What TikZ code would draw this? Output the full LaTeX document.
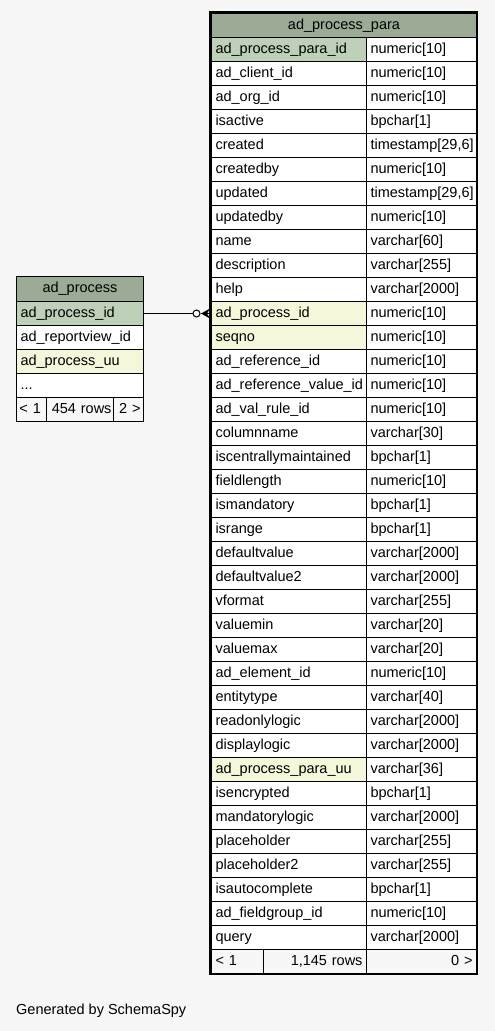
\documentclass[tikz,border=0pt]{standalone}
\usepackage{fontspec}
\setmainfont{Liberation Sans}
\usetikzlibrary{calc}
\definecolor{bg}{HTML}{F7F7F7}
\definecolor{hdr}{HTML}{9BAB96}
\definecolor{pk}{HTML}{BED1B8}
\definecolor{idx}{HTML}{F4F7DA}
\tikzset{
  cell/.style={draw=black, line width=1pt, rectangle, inner xsep=4pt, inner ysep=0pt,
    minimum height=24pt, text height=10.5pt, text depth=3pt, align=left, anchor=north west,
    font=\fontsize{14.5}{16}\selectfont},
  rcell/.style={cell, align=right},
  hcell/.style={cell, align=center, fill=hdr},
  conn/.style={draw=black, line width=1pt}
}
\newcommand\prow[4]{%
  \node[cell, fill=#4, text width=147pt] (pn#1) at (211,{37+24*#1}) {#2};
  \node[cell, fill=white, text width=102pt] (pt#1) at (366,{37+24*#1}) {#3};
}
\begin{document}
\begin{tikzpicture}[x=1pt,y=-1pt]
\fill[bg] (0,0) rectangle (495,1031);
\useasboundingbox (0,0) rectangle (495,1031);
% right table
\node[hcell, text width=257pt] (phead) at (211,13) {ad\_process\_para};
\prow{0}{ad\_process\_para\_id}{numeric[10]}{pk}
\prow{1}{ad\_client\_id}{numeric[10]}{white}
\prow{2}{ad\_org\_id}{numeric[10]}{white}
\prow{3}{isactive}{bpchar[1]}{white}
\prow{4}{created}{timestamp[29,6]}{white}
\prow{5}{createdby}{numeric[10]}{white}
\prow{6}{updated}{timestamp[29,6]}{white}
\prow{7}{updatedby}{numeric[10]}{white}
\prow{8}{name}{varchar[60]}{white}
\prow{9}{description}{varchar[255]}{white}
\prow{10}{help}{varchar[2000]}{white}
\prow{11}{ad\_process\_id}{numeric[10]}{idx}
\prow{12}{seqno}{numeric[10]}{idx}
\prow{13}{ad\_reference\_id}{numeric[10]}{white}
\prow{14}{ad\_reference\_value\_id}{numeric[10]}{white}
\prow{15}{ad\_val\_rule\_id}{numeric[10]}{white}
\prow{16}{columnname}{varchar[30]}{white}
\prow{17}{iscentrallymaintained}{bpchar[1]}{white}
\prow{18}{fieldlength}{numeric[10]}{white}
\prow{19}{ismandatory}{bpchar[1]}{white}
\prow{20}{isrange}{bpchar[1]}{white}
\prow{21}{defaultvalue}{varchar[2000]}{white}
\prow{22}{defaultvalue2}{varchar[2000]}{white}
\prow{23}{vformat}{varchar[255]}{white}
\prow{24}{valuemin}{varchar[20]}{white}
\prow{25}{valuemax}{varchar[20]}{white}
\prow{26}{ad\_element\_id}{numeric[10]}{white}
\prow{27}{entitytype}{varchar[40]}{white}
\prow{28}{readonlylogic}{varchar[2000]}{white}
\prow{29}{displaylogic}{varchar[2000]}{white}
\prow{30}{ad\_process\_para\_uu}{varchar[36]}{idx}
\prow{31}{isencrypted}{bpchar[1]}{white}
\prow{32}{mandatorylogic}{varchar[2000]}{white}
\prow{33}{placeholder}{varchar[255]}{white}
\prow{34}{placeholder2}{varchar[255]}{white}
\prow{35}{isautocomplete}{bpchar[1]}{white}
\prow{36}{ad\_fieldgroup\_id}{numeric[10]}{white}
\prow{37}{query}{varchar[2000]}{white}
\node[cell, fill=bg, text width=44pt] (pf1) at (211,949) {<~1};
\node[rcell, fill=bg, text width=95pt] (pf2) at (263,949) {1,145~rows};
\node[rcell, fill=bg, text width=102pt] (pf3) at (366,949) {0~>};
\draw[line width=2.5pt] (210,12.5) rectangle (477,974);
% left table
\node[hcell, text width=119pt, minimum height=25pt] (lhead) at (16,276) {ad\_process};
\node[cell, fill=pk, text width=119pt] (l0) at (16,301) {ad\_process\_id};
\node[cell, fill=white, text width=119pt] (l1) at (16,325) {ad\_reportview\_id};
\node[cell, fill=idx, text width=119pt] (l2) at (16,349) {ad\_process\_uu};
\node[cell, fill=white, text width=119pt] (l3) at (16,373) {...};
\node[cell, fill=bg, inner xsep=3pt, text width=24pt] (lf1) at (16,397) {<~1};
\node[rcell, fill=bg, inner xsep=2pt, text width=63pt] (lf2) at (46,397) {454~rows};
\node[rcell, fill=bg, inner xsep=3pt, text width=24pt] (lf3) at (113,397) {2~>};
% connector
\coordinate (crowtip) at ($(pn11.west)+(-10,0)$);
\node[draw=black, line width=1pt, circle, fill=white, inner sep=0pt, minimum size=7pt] (odot) at ($(pn11.west)+(-14.5,0)$) {};
\draw[conn] (l0.east) -- (odot.west);
\fill[black] ($(pn11.west)+(-1,-5)$) -- (crowtip) -- ($(pn11.west)+(-1,5)$) -- ($(pn11.west)+(-4,0)$) -- cycle;
\draw[conn] (crowtip) -- ($(pn11.west)+(-1,0)$);
% footer text
\node[anchor=west, inner sep=0pt, font=\fontsize{14.5}{16}\selectfont] (gen) at (16,1011) {Generated by SchemaSpy};
\end{tikzpicture}
\end{document}
